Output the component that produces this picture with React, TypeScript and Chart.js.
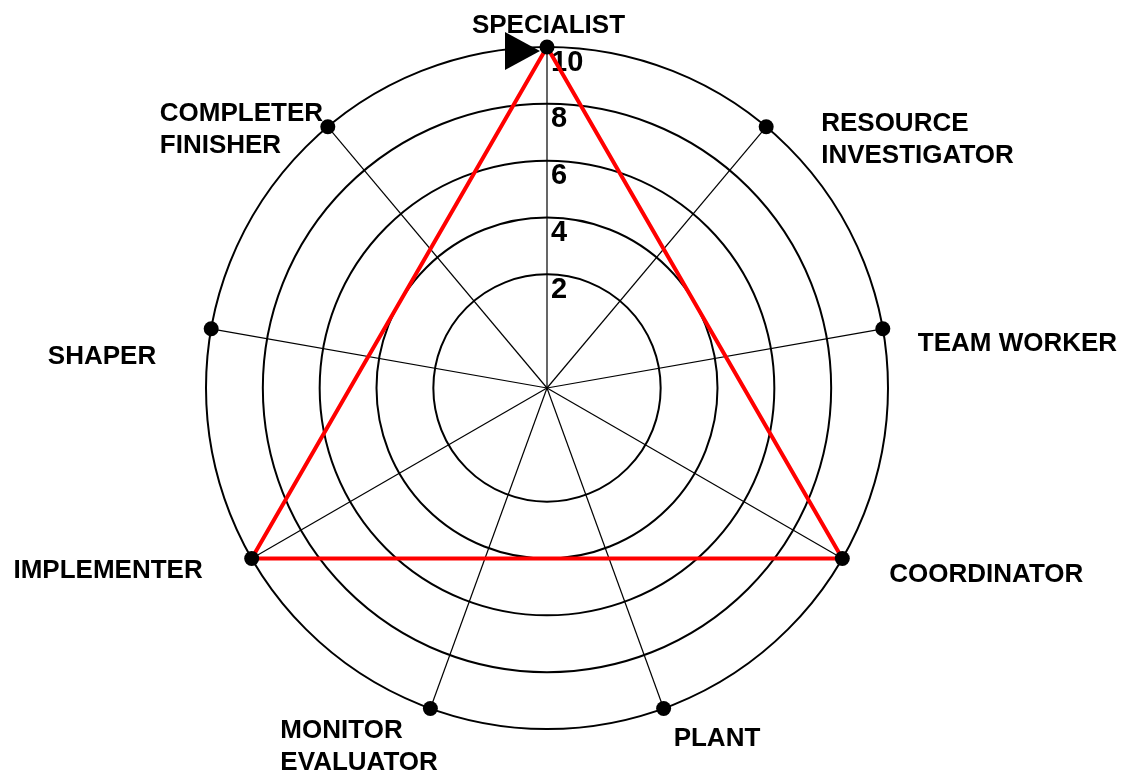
import React, { useEffect, useRef } from 'react';
import { Chart, registerables } from 'chart.js';

Chart.register(...registerables);

// ---- data ----
const ROLES: string[][] = [
  ['SPECIALIST'],
  ['RESOURCE', 'INVESTIGATOR'],
  ['TEAM WORKER'],
  ['COORDINATOR'],
  ['PLANT'],
  ['MONITOR', 'EVALUATOR'],
  ['IMPLEMENTER'],
  ['SHAPER'],
  ['COMPLETER', 'FINISHER'],
];
const PROFILE_SCORES: (number | null)[] = [10, null, null, 10, null, null, 10, null, null];
const AXIS_MARKERS: number[] = [10, 10, 10, 10, 10, 10, 10, 10, 10];
const SCALE_MIN = -2;
const SCALE_MAX = 10;
const SCALE_STEP = 2;
const TICK_LABELS_SHOWN: number[] = [2, 4, 6, 8, 10];

// ---- styling / layout ----
const FONT_FAMILY = '"Liberation Sans", Arial, Helvetica, sans-serif';
const LABEL_FONT_SIZE = 26;
const LABEL_LINE_HEIGHT = 32;
// label placement relative to each axis' outer point
const LABEL_LAYOUT: { align: CanvasTextAlign; dx: number; dy: number }[] = [
  { align: 'center', dx: 1.5, dy: -14 },
  { align: 'left', dx: 55, dy: 4 },
  { align: 'left', dx: 35, dy: 22 },
  { align: 'left', dx: 47, dy: 23 },
  { align: 'left', dx: 10, dy: 38 },
  { align: 'left', dx: -150, dy: 30 },
  { align: 'right', dx: -49, dy: 19 },
  { align: 'right', dx: -55, dy: 35 },
  { align: 'left', dx: -168, dy: -6 },
];

const roleLabelPlugin = {
  id: 'roleLabels',
  afterDatasetsDraw(chart: any) {
    const scale = chart.scales.r;
    const ctx: CanvasRenderingContext2D = chart.ctx;
    ctx.save();
    ctx.fillStyle = '#000';
    ctx.font = `bold ${LABEL_FONT_SIZE}px ${FONT_FAMILY}`;
    ctx.textBaseline = 'alphabetic';
    (chart.data.labels as string[][]).forEach((lines, i) => {
      const p = scale.getPointPositionForValue(i, scale.max);
      const lay = LABEL_LAYOUT[i];
      ctx.textAlign = lay.align;
      lines.forEach((line, k) => {
        ctx.fillText(line, p.x + lay.dx, p.y + lay.dy + k * LABEL_LINE_HEIGHT);
      });
    });
    // start marker (black triangle) next to the first axis point
    const p0 = scale.getPointPositionForValue(0, scale.max);
    ctx.beginPath();
    ctx.moveTo(p0.x - 42, p0.y - 15);
    ctx.lineTo(p0.x - 7, p0.y + 4);
    ctx.lineTo(p0.x - 42, p0.y + 23);
    ctx.closePath();
    ctx.fill();
    ctx.restore();
  },
};

export default function App() {
  const canvasRef = useRef<HTMLCanvasElement | null>(null);

  useEffect(() => {
    if (!canvasRef.current) return;
    const chart = new Chart(canvasRef.current, {
      type: 'radar',
      data: {
        labels: ROLES,
        datasets: [
          {
            label: 'Axis points',
            data: AXIS_MARKERS,
            showLine: false,
            borderWidth: 0,
            borderColor: 'rgba(0,0,0,0)',
            backgroundColor: 'rgba(0,0,0,0)',
            fill: false,
            pointRadius: 7.5,
            pointBorderWidth: 0,
            pointBackgroundColor: '#000',
            pointBorderColor: '#000',
          },
          {
            label: 'Profile',
            data: PROFILE_SCORES,
            spanGaps: true,
            borderColor: '#ff0000',
            borderWidth: 4,
            backgroundColor: 'rgba(0,0,0,0)',
            fill: false,
            pointRadius: 0,
            pointHoverRadius: 0,
          },
        ],
      },
      options: {
        responsive: false,
        animation: false,
        layout: { padding: { top: 33, bottom: 29, left: 0, right: 37 } },
        plugins: {
          legend: { display: false },
          tooltip: { enabled: false },
        },
        elements: { line: { tension: 0 } },
        scales: {
          r: {
            min: SCALE_MIN,
            max: SCALE_MAX,
            beginAtZero: false,
            ticks: {
              stepSize: SCALE_STEP,
              display: true,
              showLabelBackdrop: false,
              backdropPadding: 0,
              color: '#000',
              font: { family: FONT_FAMILY, size: 29, weight: 'bold', lineHeight: 0.54 },
              callback: (value: any) => {
                const v = Number(value);
                if (!TICK_LABELS_SHOWN.includes(v)) return '';
                const pad = v >= 10 ? '     ' : '   ';
                return ['', pad + String(v)];
              },
            },
            grid: {
              circular: true,
              color: (c: any) => (c.tick && c.tick.value === 0 ? 'rgba(0,0,0,0)' : '#000'),
              lineWidth: 2,
            },
            angleLines: { display: true, color: '#000', lineWidth: 1.2 },
            pointLabels: { display: false },
          },
        },
      },
      plugins: [roleLabelPlugin],
    });
    return () => chart.destroy();
  }, []);

  return (
    <div style={{ position: 'fixed', left: 0, top: 0, width: 1132, height: 773, background: '#fff' }}>
      <canvas ref={canvasRef} width={1132} height={773} style={{ display: 'block' }} />
    </div>
  );
}
